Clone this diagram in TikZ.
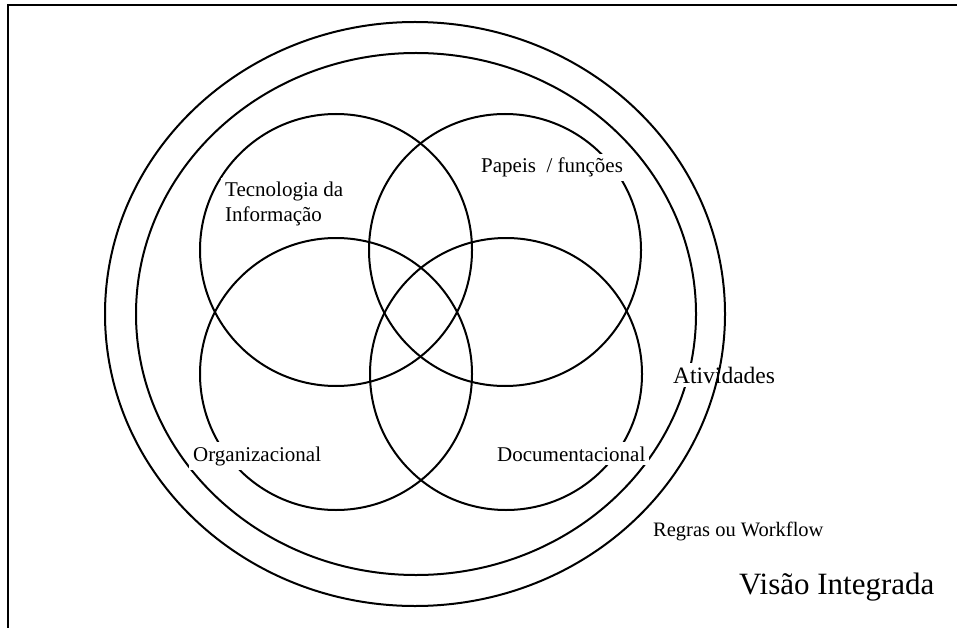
\documentclass[tikz,border=0pt]{standalone}
\usepackage{fontspec}
\setmainfont{Liberation Serif}
\begin{document}
\begin{tikzpicture}[x=1pt,y=-1pt,
  ring/.style={draw=black, line width=2pt},
  lbl/.style={fill=white, inner sep=4pt, anchor=base west, font=\fontsize{21}{25}\selectfont}]
\useasboundingbox (0,0) rectangle (957,628);
\fill[white] (0,0) rectangle (957,628);
% frame
\draw[line width=2pt] (8,628) -- (8,5) -- (957,5);
% four small circles
\draw[ring] (336,250) circle [radius=136];
\draw[ring] (505,250) circle [radius=136];
\draw[ring] (336,374) circle [radius=136];
\draw[ring] (506,374) circle [radius=136];
% inner big ellipse
\draw[ring] (416,314) ellipse [x radius=280, y radius=261];
% labels
\node[lbl] (tec1) at (221,197) {Tecnologia da};
\node[lbl] (tec2) at (221,222) {Informação};
\node[lbl] (pap) at (477,173) {Papeis\ \ / funções};
\node[lbl] (org) at (189,461) {Organizacional};
\node[lbl] (doc) at (493,461) {Documentacional};
\node[lbl, font=\fontsize{23.5}{28}\selectfont] (ativ) at (669,383) {Atividades};
\node[lbl, font=\fontsize{20.5}{24}\selectfont] (reg) at (649,536) {Regras ou Workflow};
% outer big ellipse
\draw[ring] (415,314) ellipse [x radius=310, y radius=292];
\node[lbl, fill=none, font=\fontsize{31}{36}\selectfont] (vis) at (735,594) {Visão Integrada};
\end{tikzpicture}
\end{document}
